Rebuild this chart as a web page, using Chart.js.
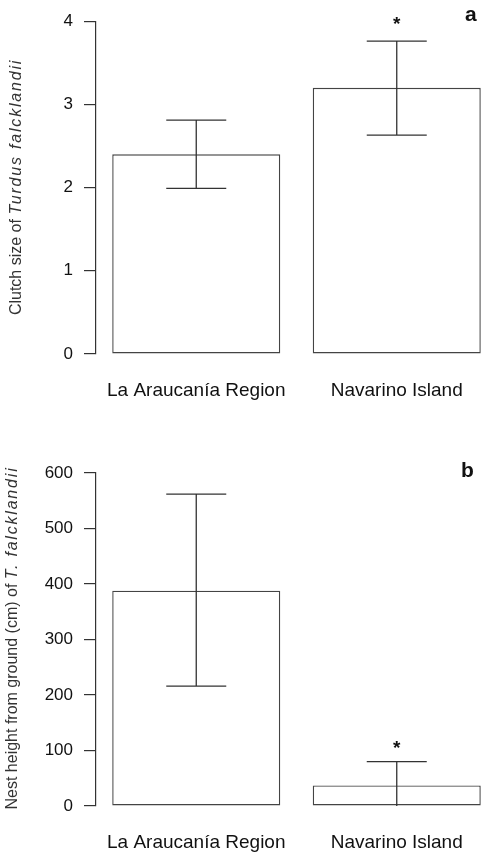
<!DOCTYPE html>
<html lang="en">
<head>
<meta charset="UTF-8">
<script src="https://cdn.jsdelivr.net/npm/chart.js"></script>
<style>
  html, body { margin: 0; padding: 0; background: #fff; }
  body { width: 483px; height: 856px; overflow: hidden; position: relative; font-family: 'Liberation Sans', Arial, sans-serif; }
  .panel { position: absolute; left: 0; width: 497px; }
  #panelA { top: 0; height: 410px; }
  #panelB { top: 430px; height: 426px; }
  .ytitle { position: absolute; white-space: nowrap; font-size: 16px; line-height: 16px; color: #333;
            transform: translate(-50%, -50%) rotate(-90deg); }
  .ytitle i { letter-spacing: 1.8px; }
  .tag { position: absolute; font-weight: bold; font-size: 21px; line-height: 21px; color: #111; }
</style>
</head>
<body>
<div class="panel" id="panelA"><canvas id="clutchChart"></canvas></div>
<div class="panel" id="panelB"><canvas id="heightChart"></canvas></div>

<div class="ytitle" style="left:16px; top:187px;">Clutch size of <i>Turdus falcklandii</i></div>
<div class="ytitle" style="left:11.5px; top:638px;">Nest height from ground (cm) of <i>T. falcklandii</i></div>
<div class="tag" style="left:465px; top:3px;">a</div>
<div class="tag" style="left:461px; top:459px;">b</div>

<script>
// sites
const regions = ['La Araucanía Region', 'Navarino Island'];

// clutch size: mean with lower / upper error limits
const clutchMean = [2.40, 3.20];
const clutchLower = [1.99, 2.63];
const clutchUpper = [2.81, 3.76];
const clutchTicks = [0, 1, 2, 3, 4];

// nest height (cm)
const heightMean = [388, 37];
const heightLower = [216, 0];
const heightUpper = [562, 80];
const heightTicks = [0, 100, 200, 300, 400, 500, 600];

// significance marks over each bar
const signif = ['', '*'];

const INK = '#333';

// error bars + asterisks on top of the bars
const errorBars = {
    id: 'errorBars',
    afterDatasetsDraw(chart, args, opts) {
        const ctx = chart.ctx;
        const yScale = chart.scales.y;
        const bars = chart.getDatasetMeta(0).data;
        ctx.save();
        ctx.strokeStyle = INK;
        ctx.lineWidth = 1.3;
        bars.forEach((bar, i) => {
            const yHi = yScale.getPixelForValue(opts.upper[i]);
            const yLo = yScale.getPixelForValue(opts.lower[i]);
            ctx.beginPath();
            ctx.moveTo(bar.x, yHi);
            ctx.lineTo(bar.x, yLo);
            ctx.moveTo(bar.x - 30, yHi);
            ctx.lineTo(bar.x + 30, yHi);
            if (opts.lower[i] > yScale.min) {
                ctx.moveTo(bar.x - 30, yLo);
                ctx.lineTo(bar.x + 30, yLo);
            }
            ctx.stroke();
            if (opts.marks[i]) {
                ctx.fillStyle = '#111';
                ctx.font = 'bold 19px "Liberation Sans", Arial, sans-serif';
                ctx.textAlign = 'center';
                ctx.textBaseline = 'alphabetic';
                ctx.fillText(opts.marks[i], bar.x, yHi - opts.markGap);
            }
        });
        ctx.restore();
    }
};

function makePanel(canvasId, means, lower, upper, ticks, padTop, xHeight, markGap) {
    const step = ticks[1] - ticks[0];
    return new Chart(document.getElementById(canvasId), {
        type: 'bar',
        data: {
            labels: regions,
            datasets: [{
                data: means,
                backgroundColor: '#fff',
                borderColor: '#444',
                borderWidth: 1.4,
                borderSkipped: false,
                barPercentage: 0.838,
                categoryPercentage: 1
            }]
        },
        options: {
            responsive: true,
            maintainAspectRatio: false,
            animation: false,
            layout: { padding: { top: padTop, left: 0, right: 0, bottom: 0 } },
            plugins: {
                legend: { display: false },
                tooltip: { enabled: false },
                errorBars: { lower: lower, upper: upper, marks: signif, markGap: markGap }
            },
            scales: {
                x: {
                    grid: { display: false, drawTicks: false },
                    border: { display: false },
                    ticks: {
                        color: '#111',
                        padding: 25,
                        font: { size: 19, family: '"Liberation Sans", Arial, sans-serif' }
                    },
                    afterFit(scale) { scale.height = xHeight; }
                },
                y: {
                    min: ticks[0],
                    max: ticks[ticks.length - 1],
                    ticks: {
                        stepSize: step,
                        color: '#111',
                        padding: 11,
                        font: { size: 17, family: '"Liberation Sans", Arial, sans-serif' }
                    },
                    grid: { drawOnChartArea: false, drawTicks: true, tickLength: 12, color: INK, lineWidth: 1.2 },
                    border: { display: true, color: INK, width: 1.2 },
                    afterFit(scale) { scale.width = 96; }
                }
            }
        },
        plugins: [errorBars]
    });
}

makePanel('clutchChart', clutchMean, clutchLower, clutchUpper, clutchTicks, 21, 56, 11);
makePanel('heightChart', heightMean, heightLower, heightUpper, heightTicks, 43, 50, 8);
</script>
</body>
</html>
